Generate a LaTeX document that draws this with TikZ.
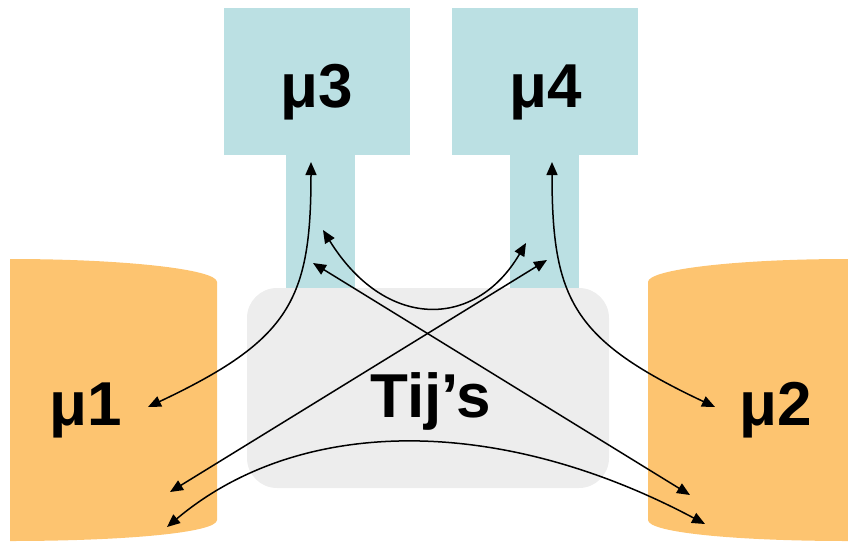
\documentclass[tikz,border=0pt]{standalone}
\usepackage{fontspec}
\setmainfont{Liberation Sans}
\usetikzlibrary{arrows.meta}
\definecolor{cylorange}{HTML}{FDC470}
\definecolor{boxblue}{HTML}{BBE0E3}
\definecolor{boxgray}{HTML}{EDEDED}
\tikzset{
  bigtext/.style={font=\fontsize{62}{62}\selectfont\bfseries, anchor=base, inner sep=0pt},
  link/.style={line width=1.5pt, {Triangle[length=13pt,width=11pt]}-{Triangle[length=13pt,width=11pt]}}
}
\begin{document}
\begin{tikzpicture}[x=1pt,y=-1pt]
\useasboundingbox (0,0) rectangle (848,541);
% cylinders
\fill[cylorange] (10,541) -- (10,259) .. controls (124.3,259) and (217,269.3) .. (217,282)
  -- (217,520) .. controls (217,532.7) and (124.3,541) .. (10,541) -- cycle;
\fill[cylorange] (848,541) -- (848,259) .. controls (737.5,259) and (648,269.3) .. (648,282)
  -- (648,520) .. controls (648,532.7) and (737.5,541) .. (848,541) -- cycle;
% top boxes with stems
\fill[boxblue] (224,8) rectangle (410,155);
\fill[boxblue] (286,150) rectangle (355,292);
\fill[boxblue] (452,8) rectangle (638,155);
\fill[boxblue] (510,150) rectangle (579,292);
% gray box
\fill[boxgray, rounded corners=30pt] (247,288) rectangle (609,488);
% labels
\node[bigtext] (m1) at (86,425) {μ1};
\node[bigtext] (m2) at (776,425) {μ2};
\node[bigtext] (m3) at (317,107) {μ3};
\node[bigtext] (m4) at (546,107) {μ4};
\node[bigtext] (tij) at (431,417) {Tij’s};
% connector end points
\coordinate (p1a) at (148,407);
\coordinate (p3a) at (311,162);
\coordinate (p2a) at (715,407);
\coordinate (p4a) at (552,162);
\coordinate (p3b) at (323,230);
\coordinate (p4b) at (526,243);
\coordinate (p3c) at (313,263);
\coordinate (p2c) at (690,495);
\coordinate (p4c) at (547,260);
\coordinate (p1c) at (170,492);
\coordinate (p1d) at (167,527);
\coordinate (p2d) at (705,524);
% connectors
\draw[link] (p1a) .. controls (290,340) and (311,300) .. (p3a);
\draw[link] (p2a) .. controls (573,340) and (552,300) .. (p4a);
\draw[link] (p3b) .. controls (385,330) and (475,330) .. (p4b);
\draw[link] (p3c) -- (p2c);
\draw[link] (p4c) -- (p1c);
\draw[link] (p1d) .. controls (300,415) and (500,415) .. (p2d);
\end{tikzpicture}
\end{document}
